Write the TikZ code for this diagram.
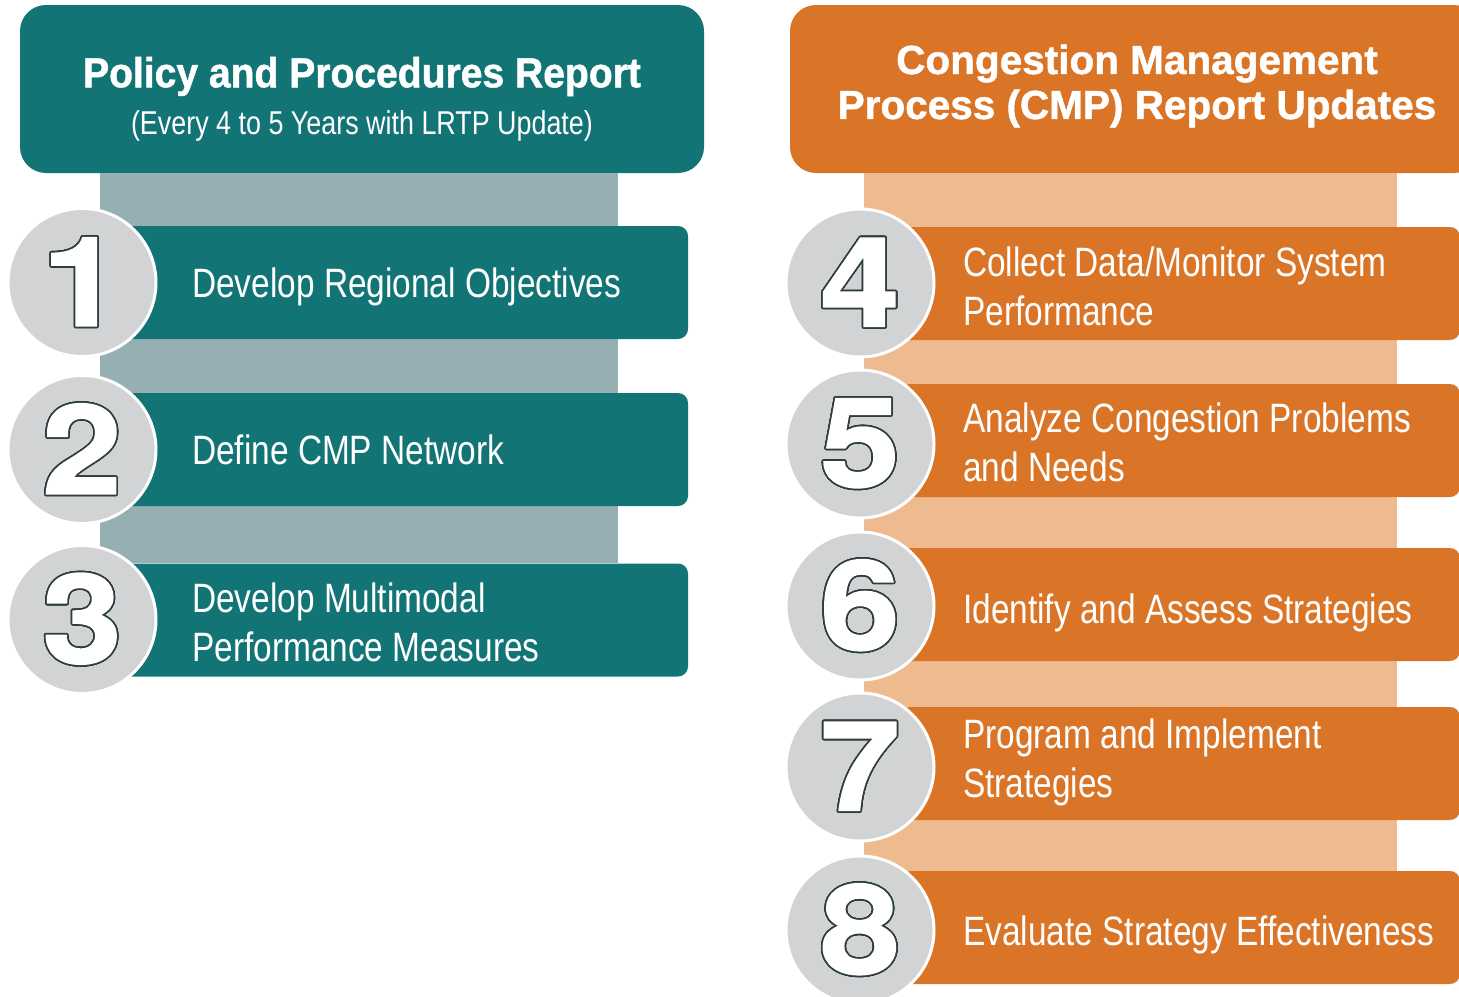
\documentclass[tikz,border=0pt]{standalone}
\usepackage{fontspec}
\usepackage{xcolor}
\usepackage[copies]{contour}
\usepackage{tikz}
\setmainfont{Liberation Sans}
\newfontfamily\stepfont[FakeStretch=0.815]{Liberation Sans}
\newfontfamily\titlefont[FakeStretch=0.93,FakeBold=1.2]{Liberation Sans}
\newfontfamily\cmpfont[FakeBold=1.2]{Liberation Sans}
\newfontfamily\digitfont[FakeStretch=1.15,FakeBold=1.5]{TeX Gyre Heros}
\definecolor{polteal}{HTML}{137476}
\definecolor{polgray}{HTML}{96AFB3}
\definecolor{cmporange}{HTML}{DA7527}
\definecolor{cmplight}{HTML}{EEBA90}
\definecolor{discgray}{HTML}{D1D3D4}
\definecolor{digitline}{HTML}{2D3E3C}
\contourlength{1.6pt}
\contournumber{32}

\begin{document}
\begin{tikzpicture}[x=1pt,y=-1pt]
\tikzstyle{header} = [rectangle, rounded corners=26pt, inner sep=0pt, minimum height=168pt]
\tikzstyle{stepbox} = [rectangle, rounded corners=10pt, inner sep=0pt, minimum height=113pt]
\tikzstyle{numdisc} = [circle, fill=discgray, draw=white, line width=3pt, minimum size=148pt, inner sep=0pt, text=white, font=\digitfont\bfseries\fontsize{124}{124}\selectfont]
\tikzstyle{steptext} = [text=white, inner sep=0pt, align=left, font=\stepfont\fontsize{41}{49}\selectfont]
\useasboundingbox (0,0) rectangle (1459,996);
\clip (0,0) rectangle (1459,996);

\node[header, fill=polteal, minimum width=684pt] (hdrL) at (362,89) {};
\node[text=white, inner sep=0pt, align=center, font=\fontsize{42}{47}\selectfont] (ttlL) at (362,99)
	{{\titlefont\bfseries Policy and Procedures Report}\\{\stepfont\fontsize{33}{47}\selectfont (Every 4 to 5 Years with LRTP Update)}};
\node[header, fill=cmporange, minimum width=690pt] (hdrR) at (1135,89) {};
\node[text=white, inner sep=0pt, align=center, font=\cmpfont\bfseries\fontsize{40.5}{45}\selectfont] (ttlR) at (1137,86)
	{Congestion Management\\Process (CMP) Report Updates};

\fill[polgray] (100,173) rectangle (618,563);
\fill[cmplight] (864,173) rectangle (1397,871);

\node[stepbox, fill=polteal, minimum width=568pt] (box1) at (404,282.5) {};
\node[stepbox, fill=polteal, minimum width=568pt] (box2) at (404,449.5) {};
\node[stepbox, fill=polteal, minimum width=568pt] (box3) at (404,620) {};
\node[stepbox, fill=cmporange, minimum width=560pt] (box4) at (1180,283.5) {};
\node[stepbox, fill=cmporange, minimum width=560pt] (box5) at (1180,440.5) {};
\node[stepbox, fill=cmporange, minimum width=560pt] (box6) at (1180,604.5) {};
\node[stepbox, fill=cmporange, minimum width=560pt] (box7) at (1180,763.5) {};
\node[stepbox, fill=cmporange, minimum width=560pt] (box8) at (1180,927.5) {};

\node[steptext, anchor=base west] (txt1) at (192,297) {Develop Regional Objectives};
\node[steptext, anchor=base west] (txt2) at (192,464) {Define CMP Network};
\node[steptext, anchor=west] (txt3) at (192,622) {Develop Multimodal\\Performance Measures};
\node[steptext, anchor=west] (txt4) at (963,286) {Collect Data/Monitor System\\Performance};
\node[steptext, anchor=west] (txt5) at (963,442) {Analyze Congestion Problems\\and Needs};
\node[steptext, anchor=base west] (txt6) at (963,623) {Identify and Assess Strategies};
\node[steptext, anchor=west] (txt7) at (963,762) {Program and Implement\\Strategies};
\node[steptext, anchor=base west] (txt8) at (963,945) {Evaluate Strategy Effectiveness};

\node[numdisc] (num1) at (82,282.5) {\contour{digitline}{1}};
\node[numdisc] (num2) at (82,449.5) {\contour{digitline}{2}};
\node[numdisc] (num3) at (82,619.5) {\contour{digitline}{3}};
\node[numdisc] (num4) at (860,283) {\contour{digitline}{4}};
\node[numdisc] (num5) at (860,444) {\contour{digitline}{5}};
\node[numdisc] (num6) at (860,606) {\contour{digitline}{6}};
\node[numdisc] (num7) at (860,767) {\contour{digitline}{7}};
\node[numdisc] (num8) at (860,930) {\contour{digitline}{8}};
\end{tikzpicture}
\end{document}
